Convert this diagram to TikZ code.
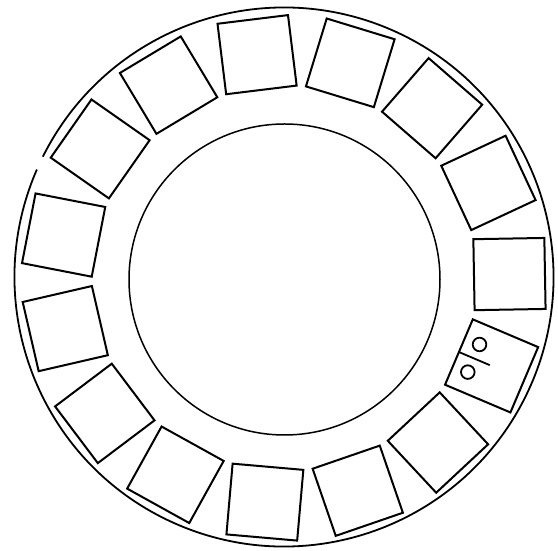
\documentclass[tikz,border=0pt]{standalone}
\usetikzlibrary{calc}
\begin{document}
\begin{tikzpicture}[x=1pt,y=1pt,
  slot/.style={draw, rectangle, minimum size=71pt, inner sep=0pt, line width=2pt},
  rim/.style={line width=1.8pt},
  hub/.style={line width=1.5pt}]
\useasboundingbox (0,0) rectangle (558,551);
\coordinate (c) at (284.5,273);
\coordinate (oc) at (284,274);
\coordinate (ic) at (284.5,271.5);
% outer rim with small break
\draw[rim] (oc) ++(156.5:269.5) arc[start angle=156.5, end angle=513.5, radius=269.5];
% inner hub
\draw[hub] (ic) circle (155.5);
% slots
\foreach \k in {0,...,14}{
  \pgfmathsetmacro{\ang}{1+24*\k}
  \node[slot, rotate=\ang] (s\k) at ($(c)+(\ang:225)$) {};
}
% marked slot (k = 14 -> angle 337 = -23)
\begin{scope}[shift={(s14.center)}, rotate=-23, line width=1.8pt]
  \draw (-35.5,0) -- (-2,0);
  \draw (-19.5,15) circle (6.8);
  \draw (-19.5,-15) circle (6.8);
\end{scope}
\end{tikzpicture}
\end{document}
